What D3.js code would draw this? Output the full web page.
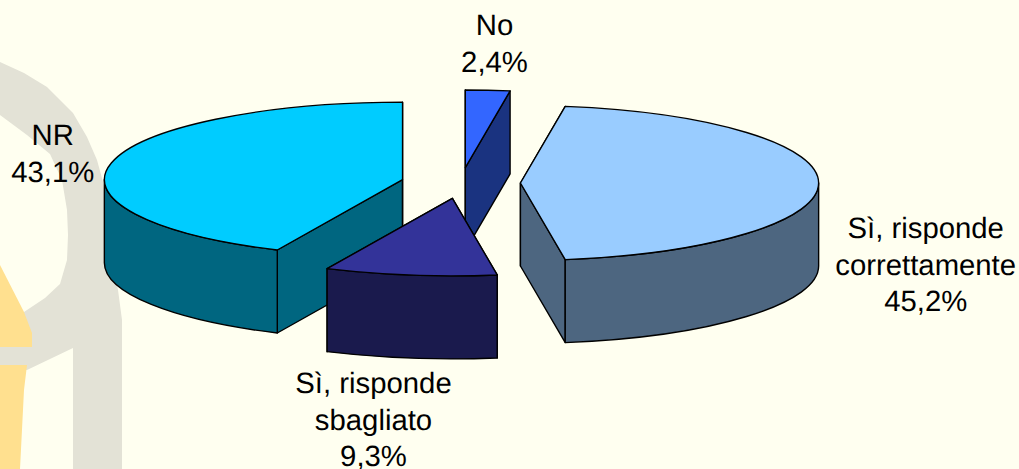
<!DOCTYPE html>
<html>
<head>
<meta charset="utf-8">
<script src="https://cdn.jsdelivr.net/npm/d3@7"></script>
<style>
  html, body { margin: 0; padding: 0; background: #FFFFF0; overflow: hidden; }
  text { font-family: "Liberation Sans", Arial, sans-serif; font-size: 29.3px; fill: #000; text-rendering: geometricPrecision; }
</style>
</head>
<body>
<div id="chart"></div>
<script>
// Data, clockwise from 12 o'clock
const categories = ['No', 'Sì, risponde correttamente', 'Sì, risponde sbagliato', 'NR']
const labelLines = [['No'], ['Sì, risponde', 'correttamente'], ['Sì, risponde', 'sbagliato'], ['NR']]
const values = [2.4, 45.2, 9.3, 43.1]

const topColors = ['#3366FF', '#99CCFF', '#333399', '#00CCFF']
const sideColors = ['#1A3380', '#4D6680', '#1A1A4D', '#006680']

// label centre x and first baseline
const labelX = [494.5, 925.7, 373.5, 52.7]
const labelY = [35, 238, 393, 145]

const dimensions = { width: 1019, height: 469 }
const pieBox = { cx: 460.8, cy: 183, rx: 298.2, ry: 77.5, depth: 83, explode: 0.2 }
const lineGap = 36.5

const svg = d3.select('#chart')
  .append('svg')
  .attr('width', dimensions.width)
  .attr('height', dimensions.height)
  .style('display', 'block')

// Background watermark
const bg = svg.append('g')
const outline = d3.line()

bg.append('path')
  .attr('d', outline([
    [0, 62], [24, 73], [47, 87], [57, 97], [73, 113], [87, 137], [97, 160], [103, 182],
    [110, 250], [118, 290], [122, 320], [122, 469], [73, 469], [73, 348], [27, 370],
    [0, 370], [0, 345], [24, 312], [45, 298], [60, 284], [67, 260], [68, 235], [67, 210],
    [62, 180], [50, 154], [27, 135], [0, 115]
  ]) + 'Z')
  .attr('fill', '#E3E2D6')

bg.append('path')
  .attr('d', outline([[0, 265], [24, 312], [32, 333], [32, 347], [0, 347]]) + 'Z')
  .attr('fill', '#FFE08F')

bg.append('path')
  .attr('d', outline([[0, 365], [27, 365], [24, 390], [20, 469], [0, 469]]) + 'Z')
  .attr('fill', '#FFE08F')

// Scales: unit circle to the flattened pie
const xScale = d3.scaleLinear().domain([-1, 1]).range([pieBox.cx - pieBox.rx, pieBox.cx + pieBox.rx])
const yScale = d3.scaleLinear().domain([-1, 1]).range([pieBox.cy - pieBox.ry, pieBox.cy + pieBox.ry])

const pie = d3.pie().sort(null).value(d => d.value)
const slices = pie(categories.map((c, i) => ({ name: c, value: values[i], index: i })))

slices.forEach(s => {
  const mid = (s.startAngle + s.endAngle) / 2
  s.ox = Math.sin(mid) * pieBox.explode
  s.oy = -Math.cos(mid) * pieBox.explode
})

function pt(s, angle, drop = 0) {
  const x = xScale(s.ox + Math.sin(angle))
  const y = yScale(s.oy - Math.cos(angle)) + drop
  return [x, y]
}
function apex(s, drop = 0) {
  return [xScale(s.ox), yScale(s.oy) + drop]
}
function arcTo(p, a0, a1) {
  const large = Math.abs(a1 - a0) > Math.PI ? 1 : 0
  const sweep = a1 > a0 ? 1 : 0
  return `A${pieBox.rx},${pieBox.ry} 0 ${large} ${sweep} ${p[0]},${p[1]}`
}

function topPath(s) {
  return `M${apex(s)}L${pt(s, s.startAngle)}` + arcTo(pt(s, s.endAngle), s.startAngle, s.endAngle) + 'Z'
}
function cutPath(s, angle) {
  return `M${apex(s)}L${pt(s, angle)}L${pt(s, angle, pieBox.depth)}L${apex(s, pieBox.depth)}Z`
}
function wallPath(s) {
  const a0 = Math.max(s.startAngle, Math.PI / 2)
  const a1 = Math.min(s.endAngle, Math.PI * 1.5)
  if (a1 <= a0) return null
  return `M${pt(s, a0)}` + arcTo(pt(s, a1), a0, a1) +
    `L${pt(s, a1, pieBox.depth)}` + arcTo(pt(s, a0, pieBox.depth), a1, a0) + 'Z'
}

// Back slices first
const drawOrder = slices.slice().sort((a, b) => a.oy - b.oy)

const ct = svg.append('g')
  .attr('stroke', '#000')
  .attr('stroke-width', 1.4)
  .attr('stroke-linejoin', 'round')

const sliceG = ct.selectAll('g')
  .data(drawOrder)
  .join('g')

sliceG.append('path')
  .attr('d', d => cutPath(d, d.startAngle))
  .attr('fill', d => sideColors[d.data.index])
sliceG.append('path')
  .attr('d', d => cutPath(d, d.endAngle))
  .attr('fill', d => sideColors[d.data.index])
sliceG.filter(d => wallPath(d)).append('path')
  .attr('d', d => wallPath(d))
  .attr('fill', d => sideColors[d.data.index])
sliceG.append('path')
  .attr('d', d => topPath(d))
  .attr('fill', d => topColors[d.data.index])

// Labels
const percent = v => v.toFixed(1).replace('.', ',') + '%'

svg.append('g')
  .selectAll('text')
  .data(slices)
  .join('text')
  .attr('text-anchor', 'middle')
  .each(function (d, i) {
    const lines = labelLines[i].concat(percent(d.value))
    d3.select(this).selectAll('tspan')
      .data(lines)
      .join('tspan')
      .attr('x', labelX[i])
      .attr('y', (l, j) => labelY[i] + j * lineGap)
      .text(l => l)
  })
</script>
</body>
</html>
